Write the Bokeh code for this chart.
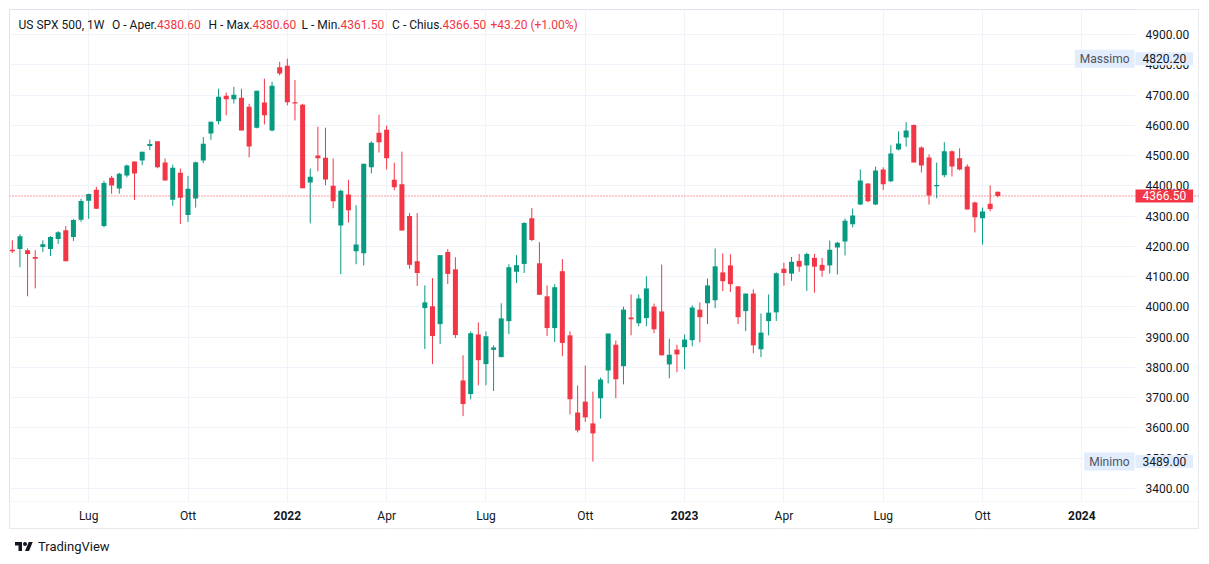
import numpy as np
import pandas as pd
from bokeh.plotting import figure
from bokeh.layouts import column
from bokeh.models import (Range1d, FixedTicker, NumeralTickFormatter, Label, Span,
                          BoxAnnotation, ColumnDataSource, Div, DatetimeAxis)
from bokeh.embed import file_html
from bokeh.resources import INLINE

# ---------------- data (weekly candles, US SPX 500, 1W) ----------------
start_week = "2021-04-26"

opens = [4189, 4191, 4187, 4165, 4198, 4191, 4224, 4253, 4231, 4288,
         4351, 4387, 4267, 4427, 4391, 4434, 4480, 4484, 4532, 4547,
         4477, 4354, 4443, 4304, 4358, 4484, 4573, 4613, 4698, 4686,
         4691, 4661, 4592, 4675, 4583, 4792, 4797, 4676, 4668, 4411,
         4500, 4493, 4400, 4269, 4371, 4184, 4177, 4461, 4575, 4585,
         4420, 4405, 4300, 4151, 3996, 4002, 3943, 4181, 4124, 3757,
         3712, 3909, 3811, 3858, 3834, 3953, 4116, 4142, 4293, 4144,
         4035, 3930, 4118, 3906, 3651, 3687, 3615, 3698, 3790, 3875,
         3804, 3965, 3946, 3963, 4001, 3985, 3810, 3859, 3867, 3890,
         3991, 4012, 4022, 4114, 4137, 4068, 3986, 4044, 3860, 3953,
         3982, 4126, 4110, 4152, 4137, 4162, 4139, 4137, 4196, 4216,
         4273, 4338, 4408, 4338, 4454, 4415, 4520, 4560, 4601, 4527,
         4494, 4399, 4435, 4514, 4491, 4464, 4345, 4293, 4341, 4380.6]

highs = [4220, 4240, 4193, 4187, 4220, 4234, 4250, 4267, 4290, 4357,
         4374, 4397, 4417, 4433, 4443, 4470, 4480, 4513, 4553, 4547,
         4490, 4470, 4457, 4433, 4480, 4561, 4612, 4721, 4708, 4727,
         4721, 4671, 4714, 4754, 4744, 4810, 4820.2, 4750, 4671, 4457,
         4595, 4592, 4490, 4387, 4420, 4336, 4473, 4547, 4635, 4599,
         4476, 4513, 4310, 4310, 4071, 4095, 4171, 4191, 4164, 3840,
         3919, 3949, 3919, 3873, 4012, 4141, 4171, 4280, 4327, 4214,
         4071, 4075, 4158, 3919, 3740, 3806, 3720, 3766, 3912, 3889,
         4001, 4041, 4041, 4101, 4011, 4140, 3895, 3875, 3909, 4005,
         4015, 4094, 4193, 4177, 4174, 4068, 4044, 4058, 3978, 4041,
         4114, 4146, 4165, 4175, 4179, 4175, 4162, 4219, 4215, 4292,
         4325, 4454, 4408, 4464, 4461, 4534, 4580, 4610, 4603, 4530,
         4504, 4477, 4544, 4517, 4524, 4471, 4348, 4328, 4401, 4380.6]

lows = [4178, 4131, 4035, 4061, 4181, 4168, 4208, 4151, 4218, 4281,
        4291, 4324, 4263, 4374, 4374, 4428, 4353, 4468, 4518, 4458,
        4418, 4334, 4274, 4281, 4328, 4475, 4552, 4603, 4633, 4672,
        4583, 4494, 4590, 4603, 4580, 4765, 4666, 4616, 4392, 4276,
        4448, 4402, 4326, 4108, 4279, 4141, 4137, 4441, 4510, 4454,
        4385, 4252, 4126, 4069, 3861, 3811, 3877, 4076, 3897, 3639,
        3695, 3741, 3741, 3722, 3834, 3910, 4079, 4112, 4217, 4040,
        3904, 3884, 3837, 3645, 3585, 3620, 3489, 3631, 3747, 3698,
        3744, 3906, 3936, 3936, 3913, 3840, 3764, 3784, 3794, 3870,
        3883, 3943, 3996, 4052, 4049, 3943, 3920, 3847, 3834, 3906,
        3953, 4070, 4086, 4116, 4053, 4047, 4100, 4110, 4107, 4170,
        4263, 4336, 4346, 4336, 4386, 4412, 4517, 4530, 4477, 4444,
        4338, 4359, 4428, 4431, 4451, 4322, 4246, 4206, 4316, 4361.5]

closes = [4184, 4233, 4175, 4159, 4207, 4231, 4247, 4151, 4287, 4350,
          4373, 4324, 4409, 4401, 4440, 4467, 4441, 4513, 4538, 4461,
          4418, 4460, 4361, 4390, 4478, 4539, 4612, 4694, 4686, 4701,
          4583, 4530, 4714, 4633, 4731, 4771, 4676, 4672, 4392, 4430,
          4491, 4421, 4349, 4384, 4319, 4206, 4473, 4542, 4544, 4491,
          4395, 4252, 4139, 4112, 4015, 3904, 4171, 4109, 3907, 3679,
          3913, 3824, 3903, 3866, 3962, 4131, 4138, 4277, 4221, 4040,
          3930, 4065, 3881, 3695, 3592, 3635, 3582, 3760, 3912, 3761,
          3991, 3959, 4028, 4061, 3926, 3840, 3842, 3843, 3892, 3998,
          3966, 4071, 4134, 4085, 4075, 3966, 4044, 3873, 3915, 3981,
          4111, 4112, 4149, 4133, 4175, 4133, 4120, 4189, 4212, 4285,
          4302, 4418, 4349, 4451, 4405, 4507, 4540, 4583, 4477, 4467,
          4368, 4403, 4514, 4464, 4454, 4322, 4296, 4315, 4323.3, 4366.5]

month_dates = ["2021-07-05", "2021-10-04", "2022-04-04", "2022-07-04", "2022-10-03",
               "2023-04-03", "2023-07-03", "2023-10-02"]
month_labels = ["Lug", "Ott", "Apr", "Lug", "Ott", "Apr", "Lug", "Ott"]
year_dates = ["2022-01-03", "2023-01-02", "2024-01-01"]
year_labels = ["2022", "2023", "2024"]
price_ticks = [3400, 3500, 3600, 3700, 3800, 3900, 4000, 4100, 4200, 4300,
               4400, 4500, 4600, 4700, 4800, 4900]

symbol = "US SPX 500, 1W"

# ---------------- styling ----------------
UP = "#089981"
DOWN = "#f23645"
TXT = "#131722"
GRID = "#f0f3fa"
FRAME = "#e0e3eb"
TAG = "#e1ecfc"
FONT = "Roboto"
DAY = 86400000

FW, FH = 1189, 519          # frame = whole chart box
PRICE_W = 63                # price-scale strip on the right
TIME_H = 27                 # time-scale strip at the bottom

dates = pd.date_range(start_week, periods=len(closes), freq="7D")
df = pd.DataFrame(dict(date=dates, open=opens, high=highs, low=lows, close=closes))
df["top"] = df[["open", "close"]].max(axis=1)
df["bottom"] = df[["open", "close"]].min(axis=1)
df["color"] = np.where(df["close"] >= df["open"], UP, DOWN)
src = ColumnDataSource(df)

p = figure(frame_width=FW, frame_height=FH, x_axis_type="datetime", y_axis_location="right",
           x_range=Range1d(dates[0] - pd.Timedelta(days=2.57), dates[0] + pd.Timedelta(days=1086.9)),
           y_range=Range1d(3267.8, 4982.6),
           output_backend="svg", toolbar_location=None,
           min_border_left=9, min_border_top=9, min_border_right=2, min_border_bottom=3)
p.outline_line_color = FRAME
p.background_fill_color = "white"
p.border_fill_color = "white"

# white strips that hold the price / time scales (drawn above the grid)
p.add_layout(BoxAnnotation(left=FW - PRICE_W, right=FW, bottom=TIME_H, top=FH,
                           left_units="screen", right_units="screen",
                           top_units="screen", bottom_units="screen",
                           fill_color="white", fill_alpha=1, line_color=None, level="underlay"))
p.add_layout(BoxAnnotation(left=0, right=FW, bottom=0, top=TIME_H,
                           left_units="screen", right_units="screen",
                           top_units="screen", bottom_units="screen",
                           fill_color="white", fill_alpha=1, line_color=FRAME, line_width=1,
                           level="underlay"))

p.segment(x0="date", y0="high", x1="date", y1="low", line_color="color", line_width=1, source=src)
p.vbar(x="date", width=4.6 * DAY, top="top", bottom="bottom", fill_color="color",
       line_color=None, source=src)


def ms(d):
    return int(pd.Timestamp(d).value // 10**6)


month_ms = [ms(d) for d in month_dates]
year_ms = [ms(d) for d in year_dates]


def style_time_axis(ax, ticks, labels, bold, standoff):
    ax.ticker = FixedTicker(ticks=ticks)
    ax.major_label_overrides = {t: l for t, l in zip(ticks, labels)}
    ax.axis_line_color = None
    ax.major_tick_line_color = None
    ax.minor_tick_line_color = None
    ax.major_tick_out = 0
    ax.major_tick_in = 0
    ax.major_label_standoff = standoff
    ax.major_label_text_font = FONT
    ax.major_label_text_font_size = "12px"
    ax.major_label_text_color = TXT
    ax.major_label_text_font_style = "bold" if bold else "normal"


# time scale: months (regular) and years (bold), both inside the bottom strip
style_time_axis(p.xaxis[0], month_ms, month_labels, False, -20)
year_axis = DatetimeAxis()
p.add_layout(year_axis, "below")
style_time_axis(year_axis, year_ms, year_labels, True, -18)
p.xgrid.ticker = FixedTicker(ticks=sorted(month_ms + year_ms))

p.yaxis.ticker = FixedTicker(ticks=price_ticks)
p.yaxis.formatter = NumeralTickFormatter(format="0.00")
p.yaxis.axis_line_color = None
p.yaxis.major_tick_line_color = None
p.yaxis.minor_tick_line_color = None
p.yaxis.major_tick_out = 0
p.yaxis.major_label_standoff = -53
p.yaxis.major_label_text_font = FONT
p.yaxis.major_label_text_font_size = "12px"
p.yaxis.major_label_text_color = TXT

p.xgrid.grid_line_color = GRID
p.ygrid.grid_line_color = GRID

# last price line + tag
last_c = closes[-1]
p.add_layout(Span(location=last_c, dimension="width", line_color=DOWN, line_width=1, line_dash="1 2"))
p.add_layout(Label(x=FW - PRICE_W, y=last_c, x_units="screen", y_units="data", text=f"{last_c:.2f}",
                   text_align="left", text_baseline="middle", text_color="white",
                   text_font=FONT, text_font_size="12px", background_fill_color=DOWN,
                   padding=(7, 2)))

# max / min tags
hi = max(highs)
lo = min(lows)
for val, name in [(hi, "Massimo"), (lo, "Minimo")]:
    p.add_layout(Label(x=FW - PRICE_W - 1, y=val, x_units="screen", y_units="data", text=name,
                       text_align="right", text_baseline="middle", text_color="#50535e",
                       text_font=FONT, text_font_size="12px", background_fill_color=TAG,
                       padding=(5, 2)))
    p.add_layout(Label(x=FW - PRICE_W, y=val, x_units="screen", y_units="data", text=f"{val:.2f}",
                       text_align="left", text_baseline="middle", text_color=TXT,
                       text_font=FONT, text_font_size="12px", background_fill_color=TAG,
                       padding=(7, 2)))

# legend header
chg = closes[-1] - closes[-2]
pct = chg / closes[-2] * 100
hy = FH - 15
p.add_layout(Label(x=9, y=hy, x_units="screen", y_units="screen", text=symbol,
                   text_baseline="middle", text_color=TXT, text_font=FONT, text_font_size="12px"))
parts = [("O - Aper.", opens[-1], 147.5), ("H - Max.", highs[-1], 243),
         ("L - Min.", lows[-1], 331), ("C - Chius.", closes[-1], 433)]
for pre, v, xv in parts:
    p.add_layout(Label(x=xv, y=hy, x_units="screen", y_units="screen", text=pre,
                       text_align="right", text_baseline="middle", text_color=TXT,
                       text_font=FONT, text_font_size="12px"))
    p.add_layout(Label(x=xv, y=hy, x_units="screen", y_units="screen", text=f"{v:.2f}",
                       text_align="left", text_baseline="middle", text_color=DOWN,
                       text_font=FONT, text_font_size="12px"))
p.add_layout(Label(x=481, y=hy, x_units="screen", y_units="screen",
                   text=f"{chg:+.2f} ({pct:+.2f}%)",
                   text_baseline="middle", text_color=DOWN, text_font=FONT, text_font_size="12px"))

# footer (attribution)
logo = ('<svg width="18" height="14" viewBox="0 0 36 28" style="vertical-align:middle;">'
        '<path fill="#131722" d="M14 22H7V11H0V4h14v18zM28 22h-8l7.5-18h8L28 22z"/>'
        '<circle fill="#131722" cx="20" cy="8" r="4"/></svg>')
footer = Div(text=logo + '<span style="margin-left:5px;vertical-align:middle;">TradingView</span>',
             width=300, height=24,
             styles={"font-family": "Roboto", "font-size": "13px", "color": TXT,
                     "line-height": "20px", "padding-left": "10px"})

layout = column(p, footer, spacing=0)
open("out.html", "w").write(file_html(layout, INLINE))
